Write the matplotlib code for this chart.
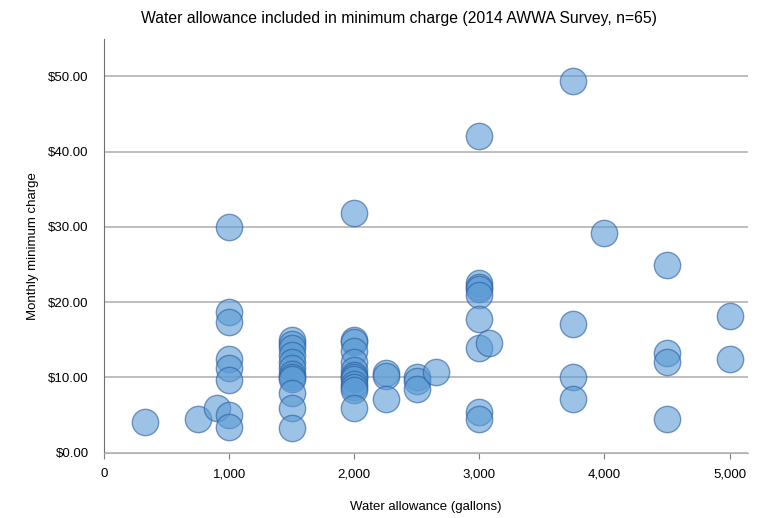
import matplotlib.pyplot as plt
from matplotlib.ticker import FuncFormatter

# water allowance (gallons) and monthly minimum charge ($)
allowance = [330, 750, 900,
             1000, 1000, 1000, 1000, 1000, 1000, 1000, 1000,
             1500, 1500, 1500, 1500, 1500, 1500, 1500, 1500, 1500, 1500, 1500, 1500,
             2000, 2000, 2000, 2000, 2000, 2000, 2000, 2000, 2000, 2000, 2000, 2000, 2000,
             2250, 2250, 2250,
             2500, 2500, 2500,
             2650,
             3000, 3000, 3000, 3000, 3000, 3000, 3000, 3000, 3000,
             3080,
             3750, 3750, 3750, 3750,
             4000,
             4500, 4500, 4500, 4500,
             5000, 5000]
charge = [4.1, 4.5, 5.9,
          30.0, 18.7, 17.4, 12.5, 11.2, 9.6, 5.0, 3.4,
          15.0, 14.5, 13.9, 13.0, 12.0, 11.2, 10.5, 10.0, 9.8, 8.0, 6.0, 3.3,
          31.9, 15.0, 14.7, 13.5, 12.0, 11.0, 10.3, 10.0, 9.8, 9.2, 8.8, 8.3, 6.0,
          10.6, 10.2, 7.2,
          10.0, 9.5, 8.5,
          10.7,
          42.1, 22.5, 22.0, 21.8, 21.0, 17.8, 13.9, 5.4, 4.5,
          14.6,
          49.4, 17.1, 10.1, 7.2,
          29.2,
          25.0, 13.2, 12.1, 4.5,
          18.2, 12.5]

x_ticks = [0, 1000, 2000, 3000, 4000, 5000]
y_ticks = [0, 10, 20, 30, 40, 50]

plt.rcParams['font.family'] = ['Liberation Sans Narrow', 'Liberation Sans', 'DejaVu Sans']

fig = plt.figure(figsize=(7.59, 5.18), dpi=100)
ax = fig.add_axes([0.137, 0.126, 0.849, 0.799])

ax.scatter(allowance, charge, s=360, facecolor='#5b9bd5', alpha=0.6,
           edgecolor='#2a5d9f', linewidth=1.0, zorder=3)

ax.set_xlim(0, 5150)
ax.set_ylim(0, 55)
ax.set_xticks(x_ticks)
ax.set_yticks(y_ticks)
ax.xaxis.set_major_formatter(FuncFormatter(lambda v, p: f'{int(v):,}'))
ax.yaxis.set_major_formatter(FuncFormatter(lambda v, p: f'${v:.2f}'))
ax.grid(axis='y', color='#b3b3b3', linewidth=1.2, zorder=0)

for s in ['top', 'right']:
    ax.spines[s].set_visible(False)
ax.spines['left'].set_color('#707070')
ax.spines['bottom'].set_color('#b3b3b3')
ax.tick_params(axis='y', length=0, labelsize=9.5, pad=11)
ax.tick_params(axis='x', length=4, color='#808080', labelsize=9.5, pad=7)

ax.set_xlabel('Water allowance (gallons)', fontsize=9.5)
ax.set_ylabel('Monthly minimum charge', fontsize=9.5)
ax.xaxis.set_label_coords(0.5, -0.116)
ax.yaxis.set_label_coords(-0.101, 0.5)
fig.text(399 / 759, 1 - 19 / 518, 'Water allowance included in minimum charge (2014 AWWA Survey, n=65)',
         ha='center', va='center', fontsize=11.3)

plt.savefig('out.png', dpi=100)
plt.close()
